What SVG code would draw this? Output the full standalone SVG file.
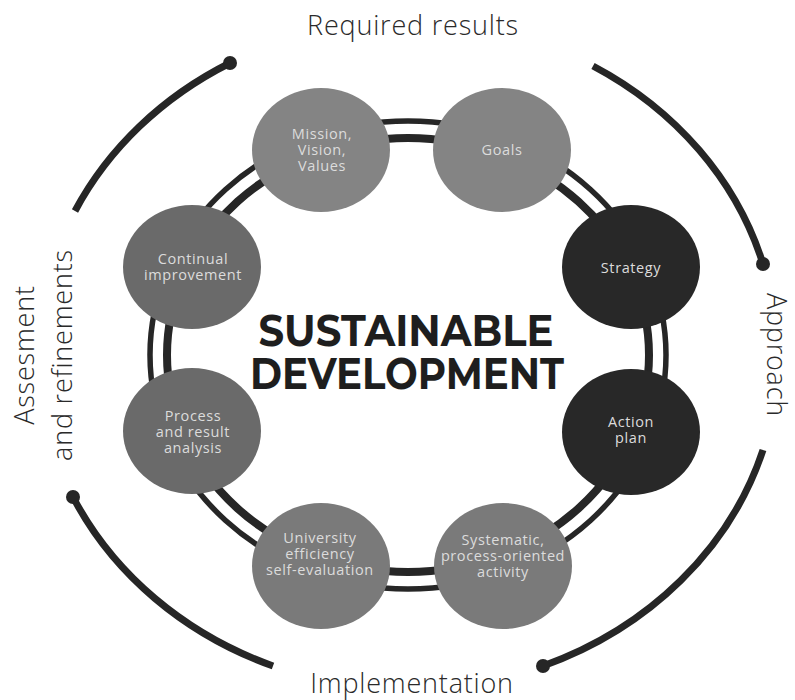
<svg xmlns="http://www.w3.org/2000/svg" width="795" height="700" viewBox="0 0 795 700">
<style>
.lbl{font-family:"Open Sans","Liberation Sans",sans-serif;font-weight:300;font-size:27px;letter-spacing:0.8px;fill:#2a2a2a;text-anchor:middle}
.nt{font-family:"Open Sans","Liberation Sans",sans-serif;font-weight:400;font-size:14.5px;letter-spacing:0.6px;fill:#dcdcdc;text-anchor:middle}
.arc{fill:none;stroke:#262626;stroke-width:7;stroke-linecap:butt}
.dot{fill:#262626}
.ring{fill:none;stroke:#262626}
.title{font-family:"Montserrat","Open Sans","Liberation Sans",sans-serif;font-weight:700;font-size:43px;fill:#1e1e1e;text-anchor:middle}
</style>
<rect width="795" height="700" fill="#ffffff"/>
<g id="outer-arcs">
  <path class="arc" d="M230,63 A375,335 0 0 0 75,211"/>
  <circle class="dot" cx="230" cy="63" r="7"/>
  <path class="arc" d="M593,66 A375,335 0 0 1 763,264"/>
  <circle class="dot" cx="763" cy="264" r="7"/>
  <path class="arc" d="M763,450 A375,335 0 0 1 543,666"/>
  <circle class="dot" cx="543" cy="666" r="7"/>
  <path class="arc" d="M73,497 A375,335 0 0 0 273,666"/>
  <circle class="dot" cx="73" cy="497" r="7"/>
</g>
<g id="labels">
  <text class="lbl" x="413" y="35">Required results</text>
  <text class="lbl" x="412" y="693">Implementation</text>
  <text class="lbl" transform="translate(767,355) rotate(90)">Approach</text>
  <text class="lbl" transform="translate(34,355) rotate(-90)">Assesment</text>
  <text class="lbl" transform="translate(72,355) rotate(-90)">and refinements</text>
</g>
<g id="connectors">
  <ellipse class="ring" cx="408" cy="355" rx="258" ry="234" stroke-width="5.5"/>
  <ellipse class="ring" cx="408" cy="355" rx="241" ry="217" stroke-width="8"/>
</g>
<g id="center-title">
  <text class="title" x="406" y="346" textLength="295" lengthAdjust="spacingAndGlyphs">SUSTAINABLE</text>
  <text class="title" x="407" y="389" textLength="314" lengthAdjust="spacingAndGlyphs">DEVELOPMENT</text>
</g>
<g id="node-mission">
  <ellipse cx="321" cy="150" rx="69" ry="62" fill="#848484"/>
  <text class="nt" x="322" y="139">Mission,</text>
  <text class="nt" x="322" y="155">Vision,</text>
  <text class="nt" x="322" y="171">Values</text>
</g>
<g id="node-goals">
  <ellipse cx="502" cy="150" rx="69" ry="62" fill="#848484"/>
  <text class="nt" x="502" y="155">Goals</text>
</g>
<g id="node-strategy">
  <ellipse cx="631" cy="267" rx="69" ry="62" fill="#282828"/>
  <text class="nt" x="631" y="273">Strategy</text>
</g>
<g id="node-action">
  <ellipse cx="631" cy="432" rx="69" ry="63" fill="#282828"/>
  <text class="nt" x="631" y="427">Action</text>
  <text class="nt" x="631" y="443">plan</text>
</g>
<g id="node-systematic">
  <ellipse cx="503" cy="566" rx="69" ry="63" fill="#7a7a7a"/>
  <text class="nt" x="503" y="545">Systematic,</text>
  <text class="nt" x="503" y="561">process-oriented</text>
  <text class="nt" x="503" y="577">activity</text>
</g>
<g id="node-university">
  <ellipse cx="321" cy="566" rx="69" ry="63" fill="#7a7a7a"/>
  <text class="nt" x="320" y="543">University</text>
  <text class="nt" x="320" y="559">efficiency</text>
  <text class="nt" x="320" y="575">self-evaluation</text>
</g>
<g id="node-process">
  <ellipse cx="192" cy="431" rx="69" ry="63" fill="#6a6a6a"/>
  <text class="nt" x="193" y="421">Process</text>
  <text class="nt" x="193" y="437">and result</text>
  <text class="nt" x="193" y="453">analysis</text>
</g>
<g id="node-continual">
  <ellipse cx="192" cy="267" rx="69" ry="62" fill="#6a6a6a"/>
  <text class="nt" x="193" y="264">Continual</text>
  <text class="nt" x="193" y="280">improvement</text>
</g>
</svg>
